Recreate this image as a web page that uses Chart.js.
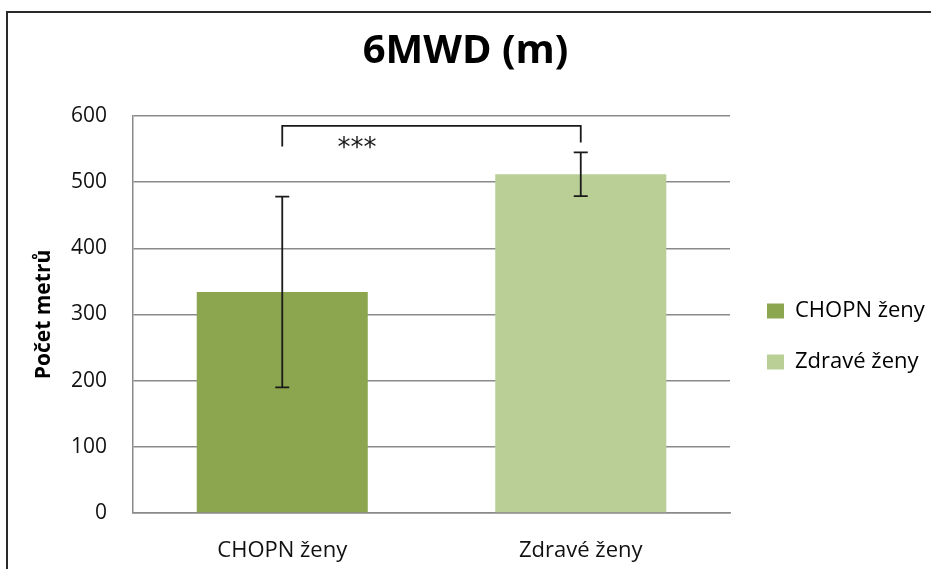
<!DOCTYPE html>
<html>
<head>
<meta charset="utf-8">
<script src="https://cdn.jsdelivr.net/npm/chart.js@4.4.1/dist/chart.umd.min.js"></script>
<style>
  html, body { margin: 0; padding: 0; background: #fff; overflow: hidden; }
  #frame { position: absolute; left: 6px; top: 11px; width: 2000px; height: 2000px; border: 2px solid #2a2a2a; }
  #chart { position: absolute; left: 0; top: 0; }
</style>
</head>
<body>
<div id="frame"></div>
<canvas id="chart" width="931" height="569"></canvas>
<script>
// ------------------------------------------------------
// DATA
// ------------------------------------------------------
const categories = ["CHOPN ženy", "Zdravé ženy"];
const means = [334, 512];          // průměr (m)
const sd = [144, 33];              // směrodatná odchylka
const barColors = ["#8CA650", "#BACF96"];
const yRange = [0, 600, 100];      // min, max, krok

// significance bracket: pair of categories, levels [top, left end, right end], label
const sigPair = [0, 1];
const sigLevels = [585, 554, 560];
const sigLabel = "***";
const sigLabelAt = [0.25, 539];    // category position, value (baseline)

const FONT = "'Open Sans', 'DejaVu Sans', sans-serif";

// ------------------------------------------------------
// ERROR BARS + BRACKET
// ------------------------------------------------------
const errorBars = {
    id: "errorBars",
    afterDatasetsDraw(chart) {
        const { ctx, scales: { x, y } } = chart;
        ctx.save();
        ctx.strokeStyle = "#1a1a1a";
        ctx.lineWidth = 1.8;

        means.forEach((m, i) => {
            const px = x.getPixelForValue(i);
            const top = y.getPixelForValue(m + sd[i]);
            const bot = y.getPixelForValue(m - sd[i]);
            ctx.beginPath();
            ctx.moveTo(px, top); ctx.lineTo(px, bot);
            ctx.moveTo(px - 7, top); ctx.lineTo(px + 7, top);
            ctx.moveTo(px - 7, bot); ctx.lineTo(px + 7, bot);
            ctx.stroke();
        });

        // bracket ***
        const x1 = x.getPixelForValue(sigPair[0]);
        const x2 = x.getPixelForValue(sigPair[1]);
        ctx.beginPath();
        ctx.moveTo(x1, y.getPixelForValue(sigLevels[1]));
        ctx.lineTo(x1, y.getPixelForValue(sigLevels[0]));
        ctx.lineTo(x2, y.getPixelForValue(sigLevels[0]));
        ctx.lineTo(x2, y.getPixelForValue(sigLevels[2]));
        ctx.stroke();

        ctx.fillStyle = "#1a1a1a";
        ctx.font = "26px 'DejaVu Sans', sans-serif";
        ctx.textAlign = "center";
        ctx.textBaseline = "alphabetic";
        ctx.fillText(sigLabel, x.getPixelForValue(sigLabelAt[0]), y.getPixelForValue(sigLabelAt[1]));
        ctx.restore();
    }
};

// legenda: větší mezera mezi grafem a legendou než mezi řádky
const legendGap = {
    id: "legendGap",
    beforeLayout(chart) {
        const lg = chart.legend;
        if (lg && !lg._wrapped) {
            const fit = lg.fit;
            lg.fit = function () { fit.call(this); this.width = 201; };
            lg._wrapped = true;
        }
    },
    afterLayout(chart) {
        const lg = chart.legend;
        lg.left += 8;
        lg.top += 22;
        lg.bottom += 22;
    }
};

// ------------------------------------------------------
// CHART
// ------------------------------------------------------
new Chart(document.getElementById("chart").getContext("2d"), {
    type: "bar",
    data: {
        labels: categories,
        datasets: [{
            data: means,
            backgroundColor: barColors,
            borderWidth: 0,
            barPercentage: 0.573,
            categoryPercentage: 1
        }]
    },
    options: {
        responsive: false,
        animation: false,
        layout: { padding: { left: 0, right: 0, top: 0, bottom: 0 } },
        plugins: {
            title: {
                display: true,
                text: "6MWD (m)",
                color: "#000",
                font: { family: FONT, size: 40, weight: "bold", lineHeight: 1.2 },
                padding: { top: 28, bottom: 40 }
            },
            legend: {
                position: "right",
                fullSize: false,
                labels: {
                    boxWidth: 17,
                    boxHeight: 15,
                    padding: 29,
                    color: "#111",
                    font: { family: FONT, size: 22 },
                    generateLabels: () => categories.map((c, i) => ({
                        text: c,
                        fillStyle: barColors[i],
                        strokeStyle: barColors[i],
                        lineWidth: 0,
                        index: i
                    }))
                }
            },
            tooltip: { enabled: false }
        },
        scales: {
            x: {
                grid: { display: false },
                border: { display: true, color: "#8a8a8a", width: 1.5 },
                ticks: { color: "#111", padding: 17, font: { family: FONT, size: 22 } },
                afterFit: (s) => { s.height = 56; }
            },
            y: {
                min: yRange[0],
                max: yRange[1],
                ticks: { stepSize: yRange[2], color: "#111", padding: 26, font: { family: FONT, size: 21 } },
                grid: { color: "#8a8a8a", lineWidth: 1.5, drawTicks: false },
                border: { display: true, color: "#8a8a8a", width: 1.5 },
                title: {
                    display: true,
                    text: "Počet metrů",
                    color: "#000",
                    font: { family: FONT, size: 21, weight: "bold", lineHeight: 1.2 },
                    padding: { top: 31, bottom: 0 }
                },
                afterFit: (s) => { s.width = 133; }
            }
        }
    },
    plugins: [errorBars, legendGap]
});
</script>
</body>
</html>
